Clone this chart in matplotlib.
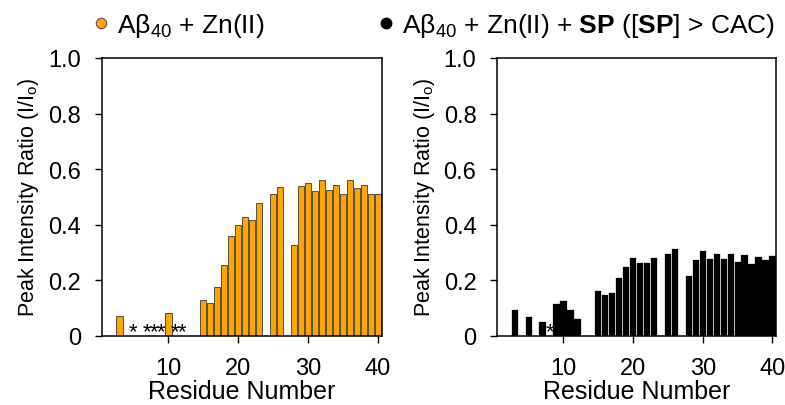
import matplotlib
matplotlib.use("Agg")
import matplotlib.pyplot as plt
from matplotlib.lines import Line2D

plt.rcParams['font.family'] = ['Liberation Sans', 'DejaVu Sans']
plt.rcParams['mathtext.fontset'] = 'custom'
plt.rcParams['mathtext.rm'] = 'Liberation Sans'
plt.rcParams['mathtext.it'] = 'Liberation Sans:italic'
plt.rcParams['mathtext.bf'] = 'Liberation Sans:bold'

# ---- data ----
left_residues = [3, 10, 15, 16, 17, 18, 19, 20, 21, 22, 23, 25, 26,
                 28, 29, 30, 31, 32, 33, 34, 35, 36, 37, 38, 39, 40]
left_values = [0.070, 0.082, 0.128, 0.116, 0.177, 0.256, 0.360, 0.398, 0.428, 0.416, 0.477,
               0.510, 0.535, 0.327, 0.538, 0.550, 0.522, 0.560, 0.526, 0.541, 0.510,
               0.560, 0.532, 0.544, 0.510, 0.510]
left_asterisks = [5, 7, 8, 9, 11, 12]

right_residues = [3, 5, 7, 9, 10, 11, 12, 15, 16, 17, 18, 19, 20, 21, 22, 23, 25, 26,
                  28, 29, 30, 31, 32, 33, 34, 35, 36, 37, 38, 39, 40]
right_values = [0.091, 0.067, 0.049, 0.113, 0.125, 0.091, 0.059, 0.161, 0.146, 0.155,
                0.208, 0.247, 0.281, 0.262, 0.262, 0.281, 0.293, 0.313, 0.215, 0.272,
                0.305, 0.275, 0.293, 0.277, 0.293, 0.266, 0.289, 0.259, 0.285, 0.272, 0.287]
right_asterisks = [8]

x_ticks = [10, 20, 30, 40]
y_ticks = [0, 0.2, 0.4, 0.6, 0.8, 1.0]
y_ticklabels = ['0', '0.2', '0.4', '0.6', '0.8', '1.0']

left_title = r'Aβ$_{40}$ + Zn(II)'
right_title = r'Aβ$_{40}$ + Zn(II) + $\mathbf{SP}$ ([$\mathbf{SP}$] > CAC)'

orange = '#FFA500'

fig = plt.figure(figsize=(7.85, 4.06), dpi=100)
ax1 = fig.add_axes([0.130, 0.1707, 0.356, 0.684])
ax2 = fig.add_axes([0.6335, 0.1707, 0.355, 0.684])

ax1.bar(left_residues, left_values, width=0.9, color=orange, edgecolor='#3a3a3a', linewidth=0.6)
ax2.bar(right_residues, right_values, width=0.9, color='black', edgecolor='black', linewidth=0.2)

for ax, stars in ((ax1, left_asterisks), (ax2, right_asterisks)):
    for r in stars:
        ax.text(r, -0.025, '*', ha='center', va='bottom', fontsize=16)

for ax in (ax1, ax2):
    ax.set_xlim(0.5, 40.5)
    ax.set_ylim(0, 1.0)
    ax.set_xticks(x_ticks)
    ax.set_yticks(y_ticks)
    ax.set_yticklabels(y_ticklabels)
    ax.tick_params(labelsize=17, length=5, width=1, direction='out', pad=10)
    for s in ax.spines.values():
        s.set_linewidth(1.1)
    ax.set_xlabel('Residue Number', fontsize=18, labelpad=0)
    ax.set_ylabel(r'Peak Intensity Ratio (I/I$_{\rm o}$)', fontsize=15.5, labelpad=5)

h1 = Line2D([], [], marker='o', linestyle='none', markersize=7.5,
            markerfacecolor=orange, markeredgecolor='#555555', markeredgewidth=0.8)
h2 = Line2D([], [], marker='o', linestyle='none', markersize=7.5,
            markerfacecolor='black', markeredgecolor='black')
ax1.legend([h1], [left_title], loc='lower left', bbox_to_anchor=(-0.06, 1.05),
           frameon=False, fontsize=19, handlelength=0.8, handletextpad=0.2,
           borderaxespad=0.0, borderpad=0.2)
ax2.legend([h2], [right_title], loc='lower right', bbox_to_anchor=(1.015, 1.05),
           frameon=False, fontsize=19, handlelength=0.8, handletextpad=0.2,
           borderaxespad=0.0, borderpad=0.2)

fig.savefig('out.png', dpi=100)
